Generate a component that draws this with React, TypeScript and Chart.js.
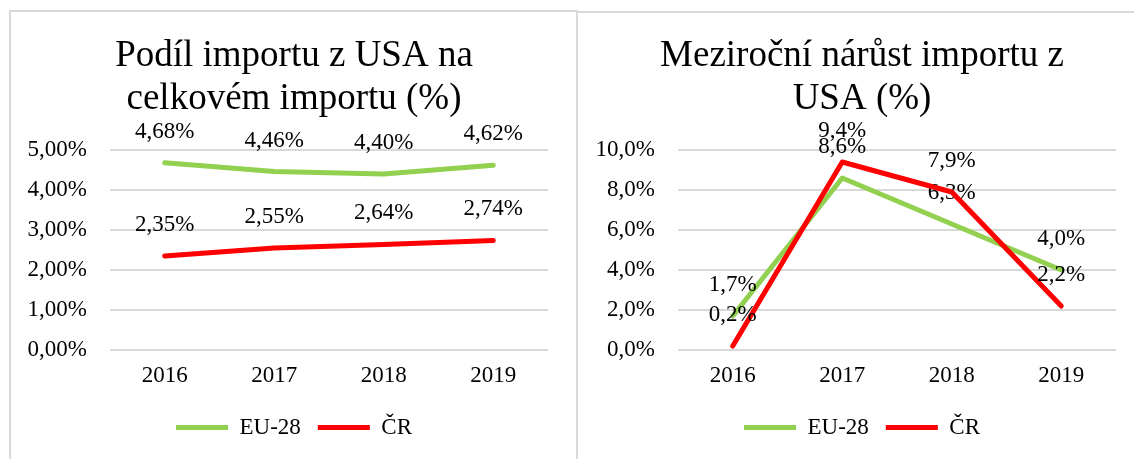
import React, { useEffect, useRef } from 'react';
import { Chart, registerables } from 'chart.js';

Chart.register(...registerables);

// ---- data ----
const years = ['2016', '2017', '2018', '2019'];
const seriesNames = ['EU-28', 'ČR'];
const shareEU = [4.68, 4.46, 4.4, 4.62];
const shareCZ = [2.35, 2.55, 2.64, 2.74];
const growthEU = [1.7, 8.6, 6.3, 4.0];
const growthCZ = [0.2, 9.4, 7.9, 2.2];
const titleShare = ['Podíl importu z USA na', 'celkovém importu (%)'];
const titleGrowth = ['Meziroční nárůst importu z', 'USA (%)'];

// ---- styles ----
const FONT = "'Liberation Serif', 'Times New Roman', serif";
const GREEN = '#92D050';
const RED = '#FF0000';
const GRID = '#d9d9d9';

const fmt = (v: number, d: number) => v.toFixed(d).replace('.', ',') + '%';

const valueLabels = {
  id: 'valueLabels',
  afterDatasetDraw(chart: any, args: any, opts: any) {
    const meta = args.meta;
    const ds = chart.data.datasets[args.index];
    const ctx = chart.ctx;
    ctx.save();
    ctx.font = `23px ${FONT}`;
    ctx.fillStyle = '#000';
    ctx.textAlign = 'center';
    ctx.textBaseline = 'middle';
    meta.data.forEach((pt: any, i: number) => {
      ctx.fillText(fmt(ds.data[i], opts.decimals), pt.x, pt.y - opts.offset);
    });
    ctx.restore();
  },
};

function makeConfig(title: string[], eu: number[], cz: number[], max: number, step: number, dec: number, leftW: number, rightW: number): any {
  return {
    type: 'line',
    data: {
      labels: years,
      datasets: [
        {
          label: seriesNames[0], data: eu, borderColor: GREEN, backgroundColor: GREEN,
          borderWidth: 5, pointRadius: 0, pointHoverRadius: 0, tension: 0,
          borderCapStyle: 'round', borderJoinStyle: 'round', order: 1,
        },
        {
          label: seriesNames[1], data: cz, borderColor: RED, backgroundColor: RED,
          borderWidth: 5, pointRadius: 0, pointHoverRadius: 0, tension: 0,
          borderCapStyle: 'round', borderJoinStyle: 'round', order: 0,
        },
      ],
    },
    options: {
      animation: false,
      responsive: false,
      devicePixelRatio: 1,
      layout: { padding: { left: 0, right: 0, top: 0, bottom: 10 } },
      plugins: {
        valueLabels: { offset: 31, decimals: dec },
        tooltip: { enabled: false },
        title: {
          display: true,
          text: title,
          color: '#000',
          font: { family: FONT, size: 37, weight: 'normal', lineHeight: '43px' },
          padding: { top: 23, bottom: 29 },
        },
        legend: {
          display: true,
          position: 'bottom',
          labels: {
            usePointStyle: true,
            pointStyle: 'line',
            pointStyleWidth: 52,
            color: '#000',
            padding: 17,
            font: { family: FONT, size: 23 },
            sort: (a: any, b: any) => a.datasetIndex - b.datasetIndex,
          },
        },
      },
      scales: {
        x: {
          offset: true,
          grid: { display: false, drawTicks: false },
          border: { display: false },
          ticks: { color: '#000', font: { family: FONT, size: 23 }, padding: 12 },
          afterFit: (s: any) => { s.height = 49; },
        },
        y: {
          position: 'left',
          min: 0,
          max,
          grid: { color: GRID, lineWidth: 2, drawTicks: false },
          border: { display: false },
          ticks: {
            stepSize: step,
            color: '#000',
            padding: 23,
            font: { family: FONT, size: 23 },
            callback: (v: number) => fmt(v, dec),
          },
          afterFit: (s: any) => { s.width = leftW; },
        },
        yRight: {
          position: 'right',
          display: true,
          min: 0,
          max,
          grid: { display: false, drawTicks: false },
          border: { display: false },
          ticks: { display: false },
          afterFit: (s: any) => { s.width = rightW; },
        },
      },
    },
    plugins: [valueLabels],
  };
}

function LineChart({ config, style, width, height }: { config: any; style: any; width: number; height: number }) {
  const ref = useRef<HTMLCanvasElement | null>(null);
  useEffect(() => {
    if (!ref.current) return;
    const chart = new Chart(ref.current, config);
    return () => chart.destroy();
  }, [config]);
  return <canvas ref={ref} width={width} height={height} style={{ position: 'absolute', ...style, width, height }} />;
}

const leftCfg = makeConfig(titleShare, shareEU, shareCZ, 5, 1, 2, 100, 30);
const rightCfg = makeConfig(titleGrowth, growthEU, growthCZ, 10, 2, 1, 101, 31);

export default function App() {
  return (
    <div style={{ position: 'absolute', left: 0, top: 0, width: 1134, height: 459, overflow: 'hidden', background: '#fff' }}>
      <div style={{ position: 'absolute', left: 9, top: 10, width: 569, height: 520, border: `2px solid ${GRID}`, boxSizing: 'border-box' }} />
      <div style={{ position: 'absolute', left: 576, top: 11, width: 620, height: 520, border: `2px solid ${GRID}`, boxSizing: 'border-box' }} />
      <LineChart config={leftCfg} style={{ left: 10, top: 12 }} width={568} height={447} />
      <LineChart config={rightCfg} style={{ left: 577, top: 12 }} width={570} height={447} />
    </div>
  );
}
